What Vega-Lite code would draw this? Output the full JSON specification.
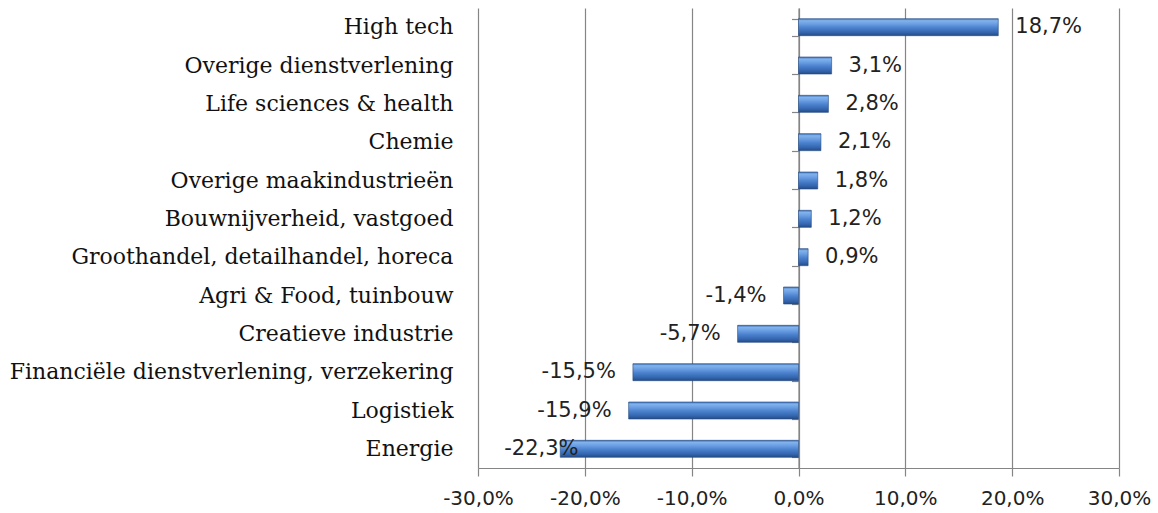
{
  "$schema": "https://vega.github.io/schema/vega-lite/v6.json",
  "width": 641,
  "height": 460,
  "autosize": "none",
  "padding": {"left": 478, "top": 8, "right": 39, "bottom": 45},
  "background": "white",
  "config": {"view": {"stroke": null}},
  "data": {
    "values": [
      {"sector": "High tech", "v": 0.187},
      {"sector": "Overige dienstverlening", "v": 0.031},
      {"sector": "Life sciences & health", "v": 0.028},
      {"sector": "Chemie", "v": 0.021},
      {"sector": "Overige maakindustrieën", "v": 0.018},
      {"sector": "Bouwnijverheid, vastgoed", "v": 0.012},
      {"sector": "Groothandel, detailhandel, horeca", "v": 0.009},
      {"sector": "Agri & Food, tuinbouw", "v": -0.014},
      {"sector": "Creatieve industrie", "v": -0.057},
      {"sector": "Financiële dienstverlening, verzekering", "v": -0.155},
      {"sector": "Logistiek", "v": -0.159},
      {"sector": "Energie", "v": -0.223}
    ]
  },
  "transform": [
    {"calculate": "replace(replace(format(datum.v, '.1%'), '.', ','), '−', '-')", "as": "lbl"}
  ],
  "resolve": {"axis": {"y": "independent"}},
  "layer": [
    {
      "mark": {
        "type": "bar",
        "stroke": "#244a82",
        "strokeWidth": 0.6,
        "color": {
          "gradient": "linear",
          "x1": 0, "y1": 0, "x2": 0, "y2": 1,
          "stops": [
            {"offset": 0, "color": "#3a6cb5"},
            {"offset": 0.12, "color": "#82b3ec"},
            {"offset": 0.3, "color": "#6ca0e4"},
            {"offset": 0.55, "color": "#4a80cc"},
            {"offset": 0.8, "color": "#3567b0"},
            {"offset": 1, "color": "#254b86"}
          ]
        }
      },
      "encoding": {
        "x": {
          "field": "v",
          "type": "quantitative",
          "title": null,
          "scale": {"domain": [-0.3, 0.3], "nice": false, "zero": false},
          "axis": {
            "values": [-0.3, -0.2, -0.1, 0, 0.1, 0.2, 0.3],
            "labelExpr": "replace(replace(format(datum.value, '.1%'), '.', ','), '−', '-')",
            "grid": true,
            "gridColor": "#858585",
            "gridWidth": 1.2,
            "domainColor": "#858585",
            "domainWidth": 1.2,
            "tickColor": "#858585",
            "tickWidth": 1.2,
            "tickSize": 8,
            "labelFont": "DejaVu Sans",
            "labelFontSize": 20,
            "labelColor": "#222222",
            "labelPadding": 12,
            "labelFlush": false,
            "labelOverlap": false
          }
        },
        "y": {
          "field": "sector",
          "type": "nominal",
          "sort": null,
          "title": null,
          "scale": {
            "domain": ["High tech", "Overige dienstverlening", "Life sciences & health", "Chemie", "Overige maakindustrieën", "Bouwnijverheid, vastgoed", "Groothandel, detailhandel, horeca", "Agri & Food, tuinbouw", "Creatieve industrie", "Financiële dienstverlening, verzekering", "Logistiek", "Energie"],
            "paddingInner": 0.556,
            "paddingOuter": 0.278
          },
          "axis": {
            "orient": "left",
            "domain": false,
            "ticks": false,
            "tickSize": 0,
            "labelPadding": 25,
            "labelFont": "DejaVu Serif",
            "labelFontSize": 22,
            "labelColor": "#111111",
            "labelLimit": 0,
            "grid": false
          }
        }
      }
    },
    {
      "transform": [{"filter": "datum.v > 0"}],
      "mark": {"type": "text", "align": "left", "baseline": "middle", "dx": 17, "font": "DejaVu Sans", "fontSize": 21, "color": "#222222"},
      "encoding": {
        "x": {"field": "v", "type": "quantitative", "title": null},
        "y": {
          "field": "sector",
          "type": "nominal",
          "sort": null,
          "title": null,
          "axis": {
            "orient": "right",
            "offset": -320.5,
            "labels": false,
            "domain": true,
            "domainColor": "#858585",
            "domainWidth": 1.2,
            "ticks": true,
            "tickBand": "extent",
            "tickSize": -7,
            "tickWidth": 1.2,
            "tickColor": "#858585",
            "grid": false,
            "title": null
          }
        },
        "text": {"field": "lbl"}
      }
    },
    {
      "transform": [
        {"filter": "datum.v < 0"},
        {"calculate": "max(datum.v, -0.19)", "as": "lx"}
      ],
      "mark": {"type": "text", "align": "right", "baseline": "middle", "dx": -17, "font": "DejaVu Sans", "fontSize": 21, "color": "#222222"},
      "encoding": {
        "x": {"field": "lx", "type": "quantitative", "title": null},
        "y": {"field": "sector", "type": "nominal", "sort": null, "title": null, "axis": null},
        "text": {"field": "lbl"}
      }
    }
  ]
}
